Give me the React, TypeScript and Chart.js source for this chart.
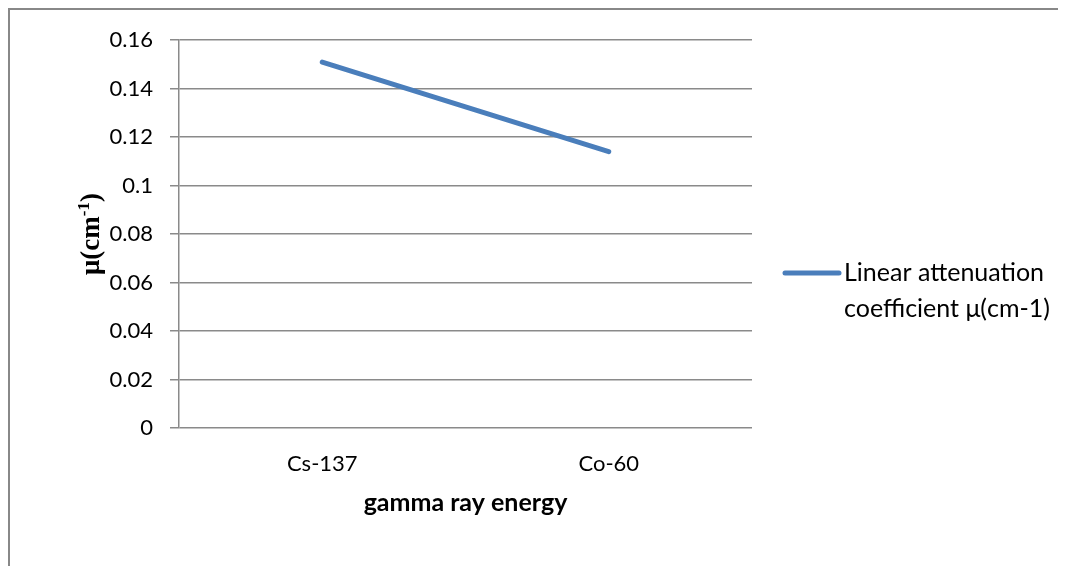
import React, { useEffect, useRef } from "react";
import { Chart, registerables } from "chart.js";

Chart.register(...registerables);

const categories = ["Cs-137", "Co-60"];
const muValues = [0.151, 0.114];
const yTicks = [0, 0.02, 0.04, 0.06, 0.08, 0.1, 0.12, 0.14, 0.16];
const seriesLabel = ["Linear attenuation", "coefficient μ(cm-1)"];
const xTitle = "gamma ray energy";
const yTitleMain = "μ(cm";
const yTitleSup = "-1";
const yTitleEnd = ")";

const LINE_COLOR = "#4A7EBB";
const GRID_COLOR = "#8a8a8a";
const FONT = "Lato, 'Open Sans', sans-serif";

const customPlugin = {
  id: "customDecor",
  afterDraw(chart: any) {
    const ctx = chart.ctx as CanvasRenderingContext2D;
    const area = chart.chartArea;
    // legend
    ctx.save();
    const lx0 = area.right + 33;
    const lx1 = lx0 + 54;
    const ly = 263;
    ctx.strokeStyle = LINE_COLOR;
    ctx.lineWidth = 5;
    ctx.lineCap = "round";
    ctx.beginPath();
    ctx.moveTo(lx0, ly);
    ctx.lineTo(lx1, ly);
    ctx.stroke();
    ctx.fillStyle = "#000";
    ctx.font = `25px ${FONT}`;
    ctx.textBaseline = "middle";
    ctx.textAlign = "left";
    seriesLabel.forEach((t, i) => ctx.fillText(t, lx1 + 5, ly + i * 36));
    ctx.restore();

    // y title with superscript
    ctx.save();
    ctx.translate(80, 224);
    ctx.rotate(-Math.PI / 2);
    ctx.fillStyle = "#000";
    ctx.textBaseline = "alphabetic";
    const mainFont = `bold 27px 'Liberation Serif', 'Times New Roman', serif`;
    const supFont = `bold 17px 'Liberation Serif', 'Times New Roman', serif`;
    ctx.font = mainFont;
    const w1 = ctx.measureText(yTitleMain).width;
    const w3 = ctx.measureText(yTitleEnd).width;
    ctx.font = supFont;
    const w2 = ctx.measureText(yTitleSup).width;
    const total = w1 + w2 + w3;
    let x = -total / 2;
    const base = 9;
    ctx.font = mainFont;
    ctx.fillText(yTitleMain, x, base);
    x += w1;
    ctx.font = supFont;
    ctx.fillText(yTitleSup, x, base - 10);
    x += w2;
    ctx.font = mainFont;
    ctx.fillText(yTitleEnd, x, base);
    ctx.restore();
  },
};

export default function App() {
  const ref = useRef<HTMLCanvasElement | null>(null);
  useEffect(() => {
    if (!ref.current) return;
    const chart = new Chart(ref.current, {
      type: "line",
      data: {
        labels: categories,
        datasets: [
          {
            label: seriesLabel.join(" "),
            data: muValues,
            borderColor: LINE_COLOR,
            backgroundColor: LINE_COLOR,
            borderWidth: 5,
            borderCapStyle: "round",
            pointRadius: 0,
            pointHoverRadius: 0,
            tension: 0,
          },
        ],
      },
      options: {
        animation: false,
        responsive: true,
        maintainAspectRatio: false,
        layout: { padding: { left: 0, top: 28, right: 314, bottom: 0 } },
        plugins: {
          legend: { display: false },
          tooltip: { enabled: false },
        },
        scales: {
          x: {
            type: "category",
            offset: true,
            grid: { display: false, drawTicks: false },
            border: { display: false },
            ticks: {
              color: "#000",
              padding: 23,
              maxRotation: 0,
              font: { family: FONT, size: 22 },
            },
            title: {
              display: true,
              text: xTitle,
              color: "#000",
              font: { family: FONT, size: 25, weight: "bold" },
              padding: { top: 0, bottom: 48 },
            },
            afterFit: (s: any) => {
              s.height = 138;
            },
          },
          y: {
            min: 0,
            max: 0.16,
            afterBuildTicks: (s: any) => {
              s.ticks = yTicks.map((v) => ({ value: v }));
            },
            grid: {
              color: GRID_COLOR,
              lineWidth: 1.5,
              drawTicks: true,
              tickLength: 9,
            },
            border: { display: true, color: GRID_COLOR, width: 1.5 },
            ticks: {
              color: "#000",
              padding: 17,
              font: { family: FONT, size: 22 },
              callback: (v: any) => String(Number(v)),
            },
            afterFit: (s: any) => {
              s.width = 169;
            },
          },
        },
      },
      plugins: [customPlugin],
    });
    return () => chart.destroy();
  }, []);
  return (
    <div
      style={{
        width: 1056,
        height: 556,
        borderLeft: "2px solid #888",
        borderTop: "2px solid #888",
        position: "relative",
      }}
    >
      <canvas ref={ref} />
    </div>
  );
}
